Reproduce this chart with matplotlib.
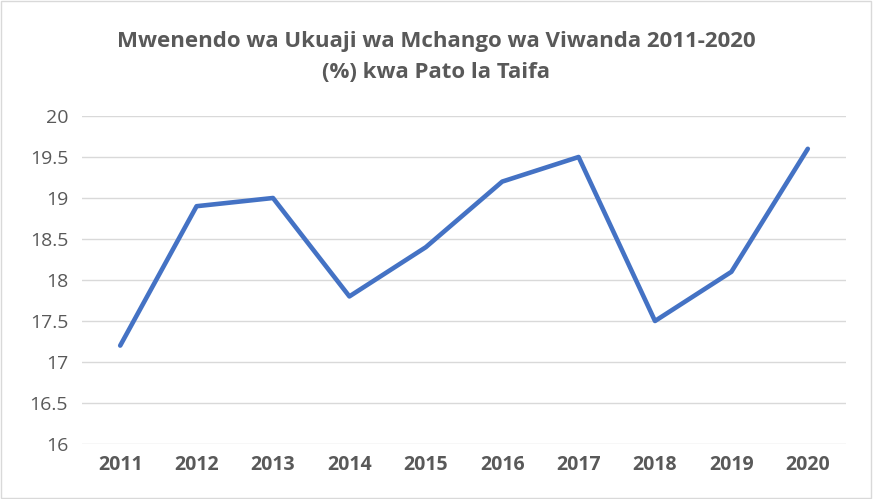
import matplotlib.pyplot as plt
import numpy as np

years = ["2011", "2012", "2013", "2014", "2015", "2016", "2017", "2018", "2019", "2020"]
share = [17.2, 18.9, 19.0, 17.8, 18.4, 19.2, 19.5, 17.5, 18.1, 19.6]
yticks = [16, 16.5, 17, 17.5, 18, 18.5, 19, 19.5, 20]

plt.rcParams['font.family'] = ['Open Sans', 'DejaVu Sans']

fig = plt.figure(figsize=(8.73, 4.99), dpi=100)
ax = fig.add_axes([82 / 873, 1 - 444 / 499, (846 - 82) / 873, (444 - 116) / 499])

x = np.arange(len(years))
ax.plot(x, share, color="#4472C4", linewidth=3.3, solid_joinstyle="round", solid_capstyle="round")

ax.set_xlim(-0.5, len(years) - 0.5)
ax.set_ylim(16, 20)
ax.set_yticks(yticks)
ax.set_yticklabels([f"{t:g}" for t in yticks])
ax.set_xticks(x)
ax.set_xticklabels(years, fontweight="bold")
ax.tick_params(axis="both", length=0, labelsize=14, colors="#595959")
ax.tick_params(axis="x", pad=8)
ax.tick_params(axis="y", pad=10)
ax.grid(axis="y", color="#D9D9D9", linewidth=1)
ax.set_axisbelow(True)
for s in ax.spines.values():
    s.set_visible(False)

fig.text(0.5, 1 - 42 / 499, "Mwenendo wa Ukuaji wa Mchango wa Viwanda 2011-2020",
         ha="center", va="center", fontsize=16, fontweight="bold", color="#595959")
fig.text(0.5, 1 - 72 / 499, "(%) kwa Pato la Taifa",
         ha="center", va="center", fontsize=16, fontweight="bold", color="#595959")

fig.patches.append(plt.Rectangle((0.001, 0.002), 0.997, 0.996, transform=fig.transFigure,
                                 fill=False, edgecolor="#D9D9D9", linewidth=1))

fig.savefig("out.png", dpi=100)
